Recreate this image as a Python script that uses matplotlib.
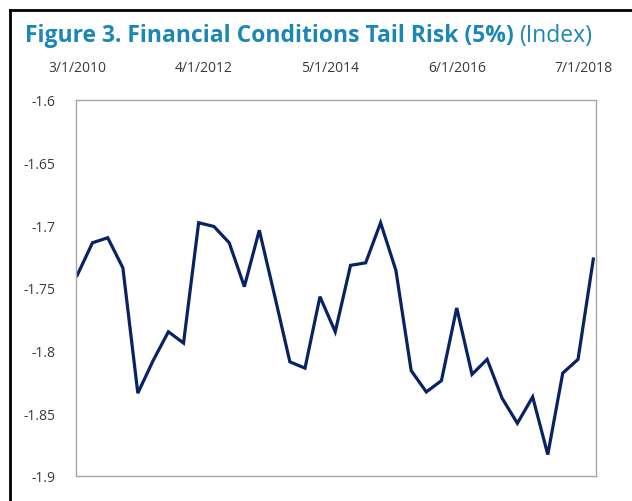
import pandas as pd
import matplotlib.pyplot as plt
from matplotlib.lines import Line2D

plt.rcParams['font.family'] = ['Open Sans', 'DejaVu Sans']

# quarterly observations, Mar 2010 .. Sep 2018
start_date = '2010-03-01'
tail_risk = [-1.740, -1.714, -1.710, -1.734, -1.834, -1.808, -1.785, -1.794,
             -1.698, -1.701, -1.714, -1.749, -1.704, -1.756, -1.809, -1.814,
             -1.757, -1.785, -1.732, -1.730, -1.698, -1.736, -1.816, -1.833,
             -1.824, -1.766, -1.819, -1.807, -1.838, -1.858, -1.837, -1.883,
             -1.818, -1.807, -1.727]
tick_dates = ['2010-03-01', '2012-04-01', '2014-05-01', '2016-06-01', '2018-07-01']
tick_labels = ['3/1/2010', '4/1/2012', '5/1/2014', '6/1/2016', '7/1/2018']
y_ticks = [-1.6, -1.65, -1.7, -1.75, -1.8, -1.85, -1.9]

dates = pd.date_range(start_date, periods=len(tail_risk), freq='3MS')

fig = plt.figure(figsize=(6.32, 5.02), dpi=100)
ax = fig.add_axes([0.120, 0.050, 0.823, 0.749])

ax.plot(dates, tail_risk, color='#072363', linewidth=2.3, solid_joinstyle='miter')

ax.set_ylim(-1.9, -1.6)
ax.set_yticks(y_ticks)
ax.set_yticklabels([f'{v:g}' for v in y_ticks])
ax.set_xlim(dates[0] - pd.Timedelta(days=8), dates[-1] + pd.Timedelta(days=16))
ax.set_xticks(pd.to_datetime(tick_dates))
ax.set_xticklabels(tick_labels)
ax.xaxis.tick_top()
ax.tick_params(axis='both', length=0, labelsize=10, colors='#3a3a3a')
ax.tick_params(axis='x', pad=18)
ax.tick_params(axis='y', pad=15)
for s in ax.spines.values():
    s.set_color('#a6a6a6')
    s.set_linewidth(1.0)

# title: bold part and regular part
t1 = fig.text(25 / 632, 1 - 36 / 502, 'Figure 3. Financial Conditions Tail Risk (5%)',
              color='#1a87b4', fontsize=16.5, fontweight='bold', va='center', ha='left')
fig.canvas.draw()
bb = t1.get_window_extent()
fig.text(bb.x1 / 632 + 0.008, 1 - 36 / 502, '(Index)', color='#1a87b4',
         fontsize=16.5, va='center', ha='left')

# black frame on the left and top
fig.add_artist(Line2D([9.5 / 632, 9.5 / 632], [0, 1 - 11 / 502], color='black',
                      linewidth=2, transform=fig.transFigure))
fig.add_artist(Line2D([9.5 / 632, 1], [1 - 11 / 502, 1 - 11 / 502], color='black',
                      linewidth=2, transform=fig.transFigure))

fig.savefig('out.png', dpi=100)
